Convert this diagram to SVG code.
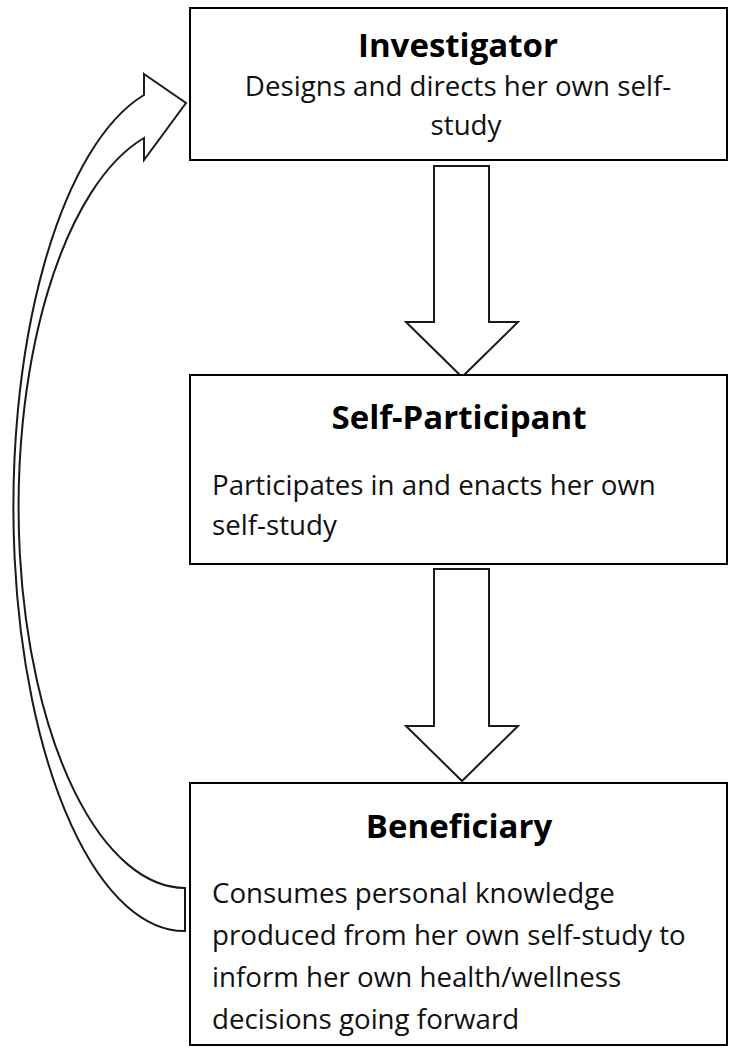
<svg xmlns="http://www.w3.org/2000/svg" width="739" height="1050" viewBox="0 0 739 1050">
<style>
.box{fill:#fff;stroke:#000;stroke-width:2}
.arr{fill:#fff;stroke:#1a1a1a;stroke-width:2;stroke-linejoin:miter}
.title{font-family:"Open Sans","Liberation Sans",sans-serif;font-weight:bold;font-size:33px;fill:#000;text-anchor:middle}
.body{font-family:"Open Sans","Liberation Sans",sans-serif;font-size:27.7px;fill:#111}
.mid{text-anchor:middle}
</style>
<rect width="739" height="1050" fill="#fff"/>
<g id="connectors">
<path class="arr" d="M434,166 H489 V322 H518 L462,377 L406,322 H434 Z"/>
<path class="arr" d="M434,569 H489 V726 H518 L462,781 L406,726 H434 Z"/>
<path class="arr" d="M144,74 L186,103 L144,160 L144,138 A167,381 0 0 0 185,888 L185,931 A171,424 0 0 1 144,95 Z"/>
</g>
<g id="investigator">
<rect class="box" x="190" y="8" width="537" height="152"/>
<text class="title" x="458" y="57">Investigator</text>
<text class="body mid" x="458" y="96">Designs and directs her own self-</text>
<text class="body mid" x="466" y="135">study</text>
</g>
<g id="self-participant">
<rect class="box" x="190" y="375" width="537" height="189"/>
<text class="title" x="459" y="429">Self-Participant</text>
<text class="body" x="212" y="495">Participates in and enacts her own</text>
<text class="body" x="212" y="535">self-study</text>
</g>
<g id="beneficiary">
<rect class="box" x="190" y="783" width="537" height="262"/>
<text class="title" x="459" y="838">Beneficiary</text>
<text class="body" x="212" y="903">Consumes personal knowledge</text>
<text class="body" x="212" y="945">produced from her own self-study to</text>
<text class="body" x="212" y="987">inform her own health/wellness</text>
<text class="body" x="212" y="1029">decisions going forward</text>
</g>
</svg>
